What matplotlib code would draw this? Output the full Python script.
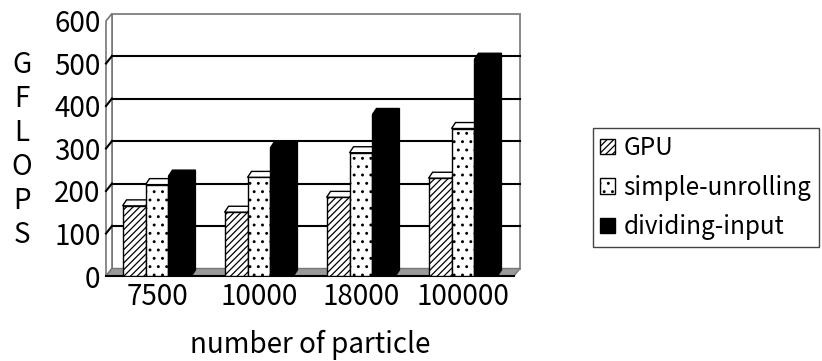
import matplotlib
matplotlib.use('Agg')
import matplotlib.pyplot as plt
from matplotlib.patches import Polygon, Patch

# data
particles = ['7500', '10000', '18000', '100000']
gpu = [165, 150, 185, 230]
simple_unrolling = [215, 232, 290, 347]
dividing_input = [235, 302, 380, 510]
y_ticks = [0, 100, 200, 300, 400, 500, 600]

series = [
    ('GPU', gpu, 'white', '/////'),
    ('simple-unrolling', simple_unrolling, 'white', '..'),
    ('dividing-input', dividing_input, 'black', None),
]

plt.rcParams['font.family'] = ['Noto Sans CJK JP', 'DejaVu Sans']
plt.rcParams['hatch.linewidth'] = 0.9

W, H = 822, 361
fig = plt.figure(figsize=(W / 100, H / 100), dpi=100)

# front plane of the pseudo 3d plot, in pixels
left, right, bottom, top = 106, 514, 276, 21
ax = fig.add_axes([left / W, (H - bottom) / H, (right - left) / W, (bottom - top) / H])
ax.set_xlim(-0.5, len(particles) - 0.5)
ax.set_ylim(0, 600)

px_x = (right - left) / len(particles)   # pixels per x unit
px_y = (bottom - top) / 600              # pixels per y unit

# depth of the walls and of the bars (in data units)
wdx, wdy = 6 / px_x, 7.5 / px_y
bdx, bdy = 4 / px_x, 6 / px_y

x0, x1 = -0.5, len(particles) - 0.5
ymax = 600

# back wall
ax.add_patch(Polygon([(x0 + wdx, wdy), (x1 + wdx, wdy), (x1 + wdx, ymax + wdy), (x0 + wdx, ymax + wdy)],
                     closed=True, facecolor='white', edgecolor='#888888', lw=1.4, clip_on=False, zorder=1))
# left wall
ax.add_patch(Polygon([(x0, 0), (x0 + wdx, wdy), (x0 + wdx, ymax + wdy), (x0, ymax)],
                     closed=True, facecolor='white', edgecolor='#777777', lw=1.2, clip_on=False, zorder=1))
# gridlines on back and left walls
for v in y_ticks[1:-1]:
    ax.plot([x0 + wdx, x1 + wdx], [v + wdy, v + wdy], color='black', lw=1.5, clip_on=False, zorder=2)
    ax.plot([x0, x0 + wdx], [v, v + wdy], color='black', lw=1.5, clip_on=False, zorder=2)
# floor
ax.add_patch(Polygon([(x0, 0), (x1, 0), (x1 + wdx, wdy), (x0 + wdx, wdy)],
                     closed=True, facecolor='#9a9a9a', edgecolor='#777777', lw=1.0, clip_on=False, zorder=2))
ax.plot([x0, x1], [0, 0], color='black', lw=1.5, clip_on=False, zorder=3)

# bars
width = 0.225
offsets = [-width, 0, width]
for i in range(len(particles)):
    for k, ((name, vals, color, hatch), off) in enumerate(zip(series, offsets)):
        xl = i + off - width / 2
        xr = xl + width
        v = vals[i]
        z = 4 + 0.1 * k
        side = Polygon([(xr, 0), (xr + bdx, bdy), (xr + bdx, v + bdy), (xr, v)], closed=True,
                       facecolor=color, edgecolor='black', lw=1.0, zorder=z)
        top_face = Polygon([(xl, v), (xr, v), (xr + bdx, v + bdy), (xl + bdx, v + bdy)], closed=True,
                           facecolor=color, edgecolor='black', lw=1.0, zorder=z)
        ax.add_patch(side)
        ax.add_patch(top_face)
        ax.bar(i + off, v, width, color=color, hatch=hatch, edgecolor='black', lw=1.0, zorder=z + 0.01)

for s in ax.spines.values():
    s.set_visible(False)
ax.set_xticks(range(len(particles)))
ax.set_xticklabels(particles, fontsize=20)
ax.set_yticks(y_ticks)
ax.set_yticklabels([str(t) for t in y_ticks], fontsize=20)
ax.tick_params(length=0)
ax.tick_params(axis='y', pad=4)
ax.tick_params(axis='x', pad=4)
ax.set_xlabel('number of particle', fontsize=20, labelpad=13)

fig.text(22 / W, 1 - 150 / H, 'G\nF\nL\nO\nP\nS', ha='center', va='center', fontsize=20, linespacing=1.17)

handles = [Patch(facecolor=c, hatch=h, edgecolor='black', lw=1.0) for _, _, c, h in series]
fig.legend(handles, [s[0] for s in series], loc='upper left', bbox_to_anchor=(593 / W, 1 - 128 / H),
           fontsize=17.5, frameon=True, fancybox=False, edgecolor='#444444', framealpha=1,
           handlelength=0.6, handleheight=0.6, handletextpad=0.35, labelspacing=0.55,
           borderpad=0.3, borderaxespad=0)

fig.savefig('out.png', dpi=100)
